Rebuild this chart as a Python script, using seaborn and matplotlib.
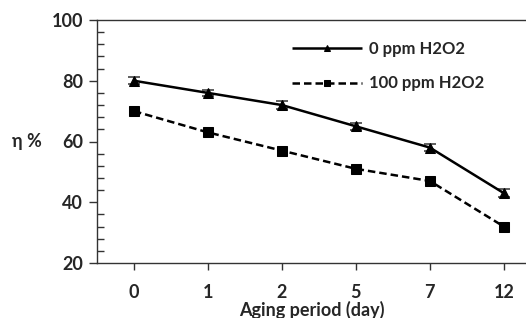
import numpy as np
import pandas as pd
import seaborn as sns
import matplotlib.pyplot as plt
from matplotlib.ticker import MultipleLocator

days = ["0", "1", "2", "5", "7", "12"]
eta_0ppm = [80, 76, 72, 65, 58, 43]
err_0ppm = [1.2, 1.0, 1.2, 1.2, 1.2, 1.2]
eta_100ppm = [70, 63, 57, 51, 47, 32]

sns.set_style("white")
plt.rcParams["font.family"] = ["Lato", "DejaVu Sans"]
plt.rcParams["font.weight"] = "bold"

pos = np.arange(len(days))
df = pd.DataFrame({
    "pos": np.concatenate([pos, pos]),
    "eta": eta_0ppm + eta_100ppm,
    "series": ["0 ppm H2O2"] * len(days) + ["100 ppm H2O2"] * len(days),
})

fig = plt.figure(figsize=(5.26, 3.18), dpi=100)
ax = fig.add_axes([97 / 526, 1 - 263 / 318, 429 / 526, 243 / 318])

ax.errorbar(pos, eta_0ppm, yerr=err_0ppm, fmt="none", ecolor="#444444",
            elinewidth=1.2, capsize=4, capthick=1.2, zorder=2)
sns.lineplot(data=df, x="pos", y="eta", hue="series", style="series",
             palette=["black", "black"], markers=["^", "s"],
             dashes=[(1, 0), (3, 1.6)], markersize=7, linewidth=1.8,
             markeredgecolor="black", ax=ax, zorder=3)

ax.set_xlim(-0.5, 5.3)
ax.set_ylim(20, 100)
ax.set_xticks(pos)
ax.set_xticklabels(days)
ax.yaxis.set_major_locator(MultipleLocator(20))
ax.yaxis.set_minor_locator(MultipleLocator(4))

for s in ["left", "bottom", "top"]:
    ax.spines[s].set_color("#333333")
    ax.spines[s].set_linewidth(1.0)
ax.spines["right"].set_visible(False)

ax.tick_params(axis="y", which="major", direction="out", length=6, width=1,
               color="#333333", labelsize=13, pad=4, left=True)
ax.tick_params(axis="y", which="minor", direction="in", length=5, width=1,
               color="#333333", left=True)
ax.tick_params(axis="x", which="major", direction="out", length=5, width=1,
               color="#333333", labelsize=13, pad=10, bottom=True)

ax.set_xlabel("Aging period (day)", fontsize=13, fontweight="bold", labelpad=0)
ax.set_ylabel("η %", fontsize=13, fontweight="bold", rotation=0, labelpad=18,
              va="center")

handles, labels = ax.get_legend_handles_labels()
leg = ax.legend(handles, labels, loc="upper left", bbox_to_anchor=(0.42, 0.975),
                frameon=False, fontsize=12, handlelength=4.2, labelspacing=1.1,
                handletextpad=0.4)
for h in leg.legend_handles:
    h.set_markersize(5)

fig.savefig("out.png", dpi=100)
